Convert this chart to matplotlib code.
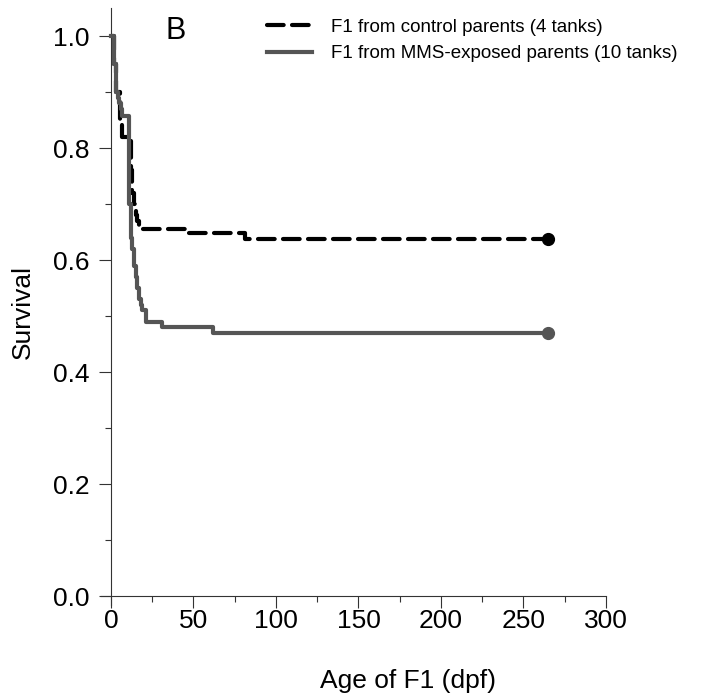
import matplotlib
matplotlib.use("Agg")
import matplotlib.pyplot as plt
from matplotlib.ticker import MultipleLocator

plt.rcParams["font.family"] = ["Liberation Sans", "DejaVu Sans"]

# Kaplan-Meier style steps (days post fertilization, survival)
control_days = [0, 2, 3, 5.5, 7, 12, 13, 14, 15, 16, 17, 45, 81, 265]
control_surv = [1.0, 0.95, 0.90, 0.85, 0.82, 0.76, 0.72, 0.70, 0.68, 0.67, 0.655, 0.648, 0.638, 0.638]

mms_days = [0, 2, 3, 4, 5, 6, 7, 11, 12, 13, 14, 15, 16, 17, 18, 19, 21, 31, 62, 265]
mms_surv = [1.0, 0.95, 0.90, 0.89, 0.88, 0.87, 0.857, 0.70, 0.64, 0.62, 0.59, 0.57,
            0.55, 0.53, 0.52, 0.51, 0.49, 0.48, 0.47, 0.47]

control_label = "F1 from control parents (4 tanks)"
mms_label = "F1 from MMS-exposed parents (10 tanks)"

fig = plt.figure(figsize=(7.23, 6.97), dpi=100)
ax = fig.add_axes([0.1397, 0.132, 0.6985, 0.8565])

ax.step(control_days, control_surv, where="post", color="black", lw=3,
        dashes=(4, 2), dash_capstyle="round", label=control_label, zorder=2)
ax.step(mms_days, mms_surv, where="post", color="#555555", lw=3,
        label=mms_label, zorder=3)
ax.plot(control_days[-1], control_surv[-1], "o", color="black", ms=8.5, zorder=4)
ax.plot(mms_days[-1], mms_surv[-1], "o", color="#555555", ms=8.5, zorder=4)

ax.set_xlim(-6, 300)
ax.set_ylim(-0.016, 1.05)
ax.spines["left"].set_position(("data", 0))
ax.spines["bottom"].set_position(("data", 0))
ax.spines["top"].set_visible(False)
ax.spines["right"].set_visible(False)
for s in ["left", "bottom"]:
    ax.spines[s].set_linewidth(0.8)
    ax.spines[s].set_color("#333333")

ax.xaxis.set_major_locator(MultipleLocator(50))
ax.xaxis.set_minor_locator(MultipleLocator(25))
ax.yaxis.set_major_locator(MultipleLocator(0.2))
ax.yaxis.set_minor_locator(MultipleLocator(0.1))
ax.yaxis.set_major_formatter(plt.FormatStrFormatter("%.1f"))
ax.tick_params(which="major", direction="out", length=8.5, width=0.8,
               color="#333333", labelsize=19)
ax.tick_params(which="minor", direction="out", length=4.5, width=0.8, color="#333333")
ax.tick_params(axis="x", which="major", pad=0.5)
ax.tick_params(axis="y", which="major", pad=7)

ax.set_xlabel("Age of F1 (dpf)", fontsize=19)
ax.set_ylabel("Survival", fontsize=19)
ax.xaxis.set_label_coords(0.608, -0.107)
ax.yaxis.set_label_coords(-0.131, 0.49)

fig.text(0.2434, 0.9555, "B", fontsize=22, ha="center", va="center")

ax.legend(loc="upper left", bbox_to_anchor=(0.3693, 0.973), bbox_transform=fig.transFigure,
          frameon=False, fontsize=13.5, handlelength=2.4, handletextpad=1.0,
          labelspacing=0.5, borderpad=0, borderaxespad=0)

fig.savefig("out.png", dpi=100)
